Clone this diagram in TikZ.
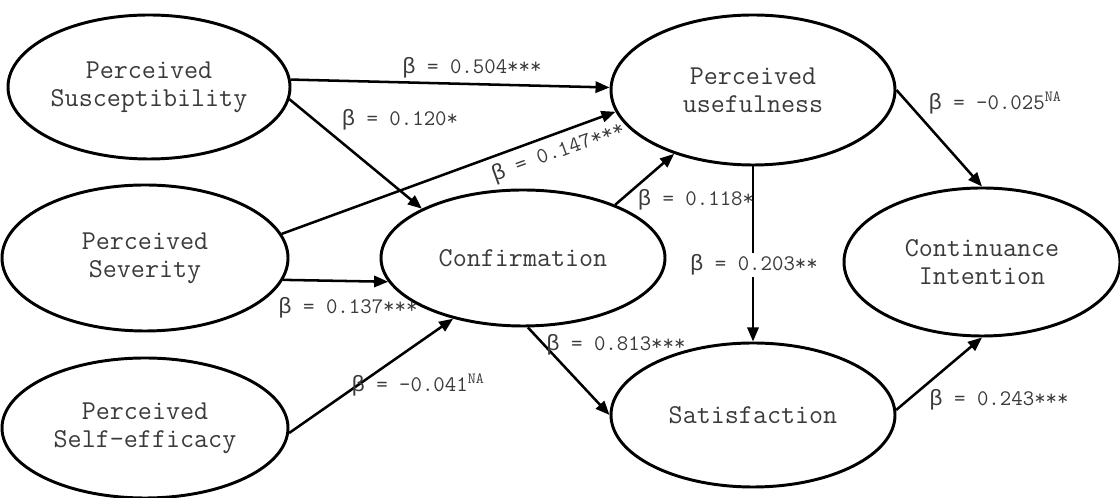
\documentclass[tikz,border=0pt]{standalone}
\usepackage{fontspec}
\newfontfamily\grk{Liberation Mono}
\usetikzlibrary{arrows.meta, shapes.geometric}
\definecolor{textgray}{HTML}{3A3A3A}
\newcommand{\bt}{{\grk β}}

\begin{document}
\begin{tikzpicture}[>={Triangle[length=10pt, width=8pt]}, line width=1.8pt,
  construct/.style={draw, ellipse, line width=2.1pt, inner sep=0pt, align=center,
    minimum width=7.1cm, minimum height=3.6cm, text=textgray,
    font=\ttfamily\fontsize{19.4}{19.8}\selectfont},
  coef/.style={text=textgray, inner sep=1pt, font=\ttfamily\fontsize{15.8}{17}\selectfont}]
  \useasboundingbox (0,0) rectangle (28,12.45);

  % Konstrukty
  \node[construct, minimum width=7.05cm] (susc) at (3.725,10.275) {Perceived\\Susceptibility};
  \node[construct, minimum width=7.15cm, minimum height=3.65cm] (sev) at (3.625,6.0) {Perceived\\Severity};
  \node[construct, minimum width=7.15cm, minimum height=3.5cm] (self) at (3.625,1.75) {Perceived\\Self-efficacy};
  \node[construct, minimum height=3.4cm] (conf) at (13.075,6.0) {Confirmation};
  \node[construct, minimum height=3.75cm] (pu) at (18.825,10.2) {Perceived\\usefulness};
  \node[construct, minimum width=6.9cm, minimum height=3.7cm] (ci) at (24.55,5.9) {Continuance\\Intention};
  \node[construct] (sat) at (18.825,2.075) {Satisfaction};

  % Cesty
  \draw[->] (susc.3) -- (pu.179);
  \draw[->] (susc.-5) -- (conf.154);
  \draw[->] (sev.10) -- (pu.189);
  \draw[->] (sev.-9) -- (conf.190);
  \draw[->] (self.-2) -- (conf.221);
  \draw[->] (conf.30) -- (pu.219);
  \draw[->] (pu.270) -- (sat.90);
  \draw[->] (conf.274) -- (sat.180);
  \draw[->] (pu.0) -- (ci.90);
  \draw[->] (sat.2) -- (ci.270);

  % Koeficienty
  \node[coef] (b504) at (11.8,10.75) {\bt{} = 0.504***};
  \node[coef] (b120) at (10.0,9.45) {\bt{} = 0.120*};
  \node[coef, rotate=20] (b147) at (13.95,8.65) {\bt{} = 0.147***};
  \node[coef] (b137) at (8.7,4.75) {\bt{} = 0.137***};
  \node[coef] (b041) at (10.45,2.825) {\bt{} = -0.041\textsuperscript{NA}};
  \node[coef] (b118) at (17.4,7.45) {\bt{} = 0.118*};
  \node[coef, fill=white] (b203) at (18.85,5.825) {\bt{} = 0.203**};
  \node[coef] (b813) at (15.4,3.825) {\bt{} = 0.813***};
  \node[coef] (b025) at (24.875,9.875) {\bt{} = -0.025\textsuperscript{NA}};
  \node[coef] (b243) at (24.975,2.45) {\bt{} = 0.243***};
\end{tikzpicture}
\end{document}
